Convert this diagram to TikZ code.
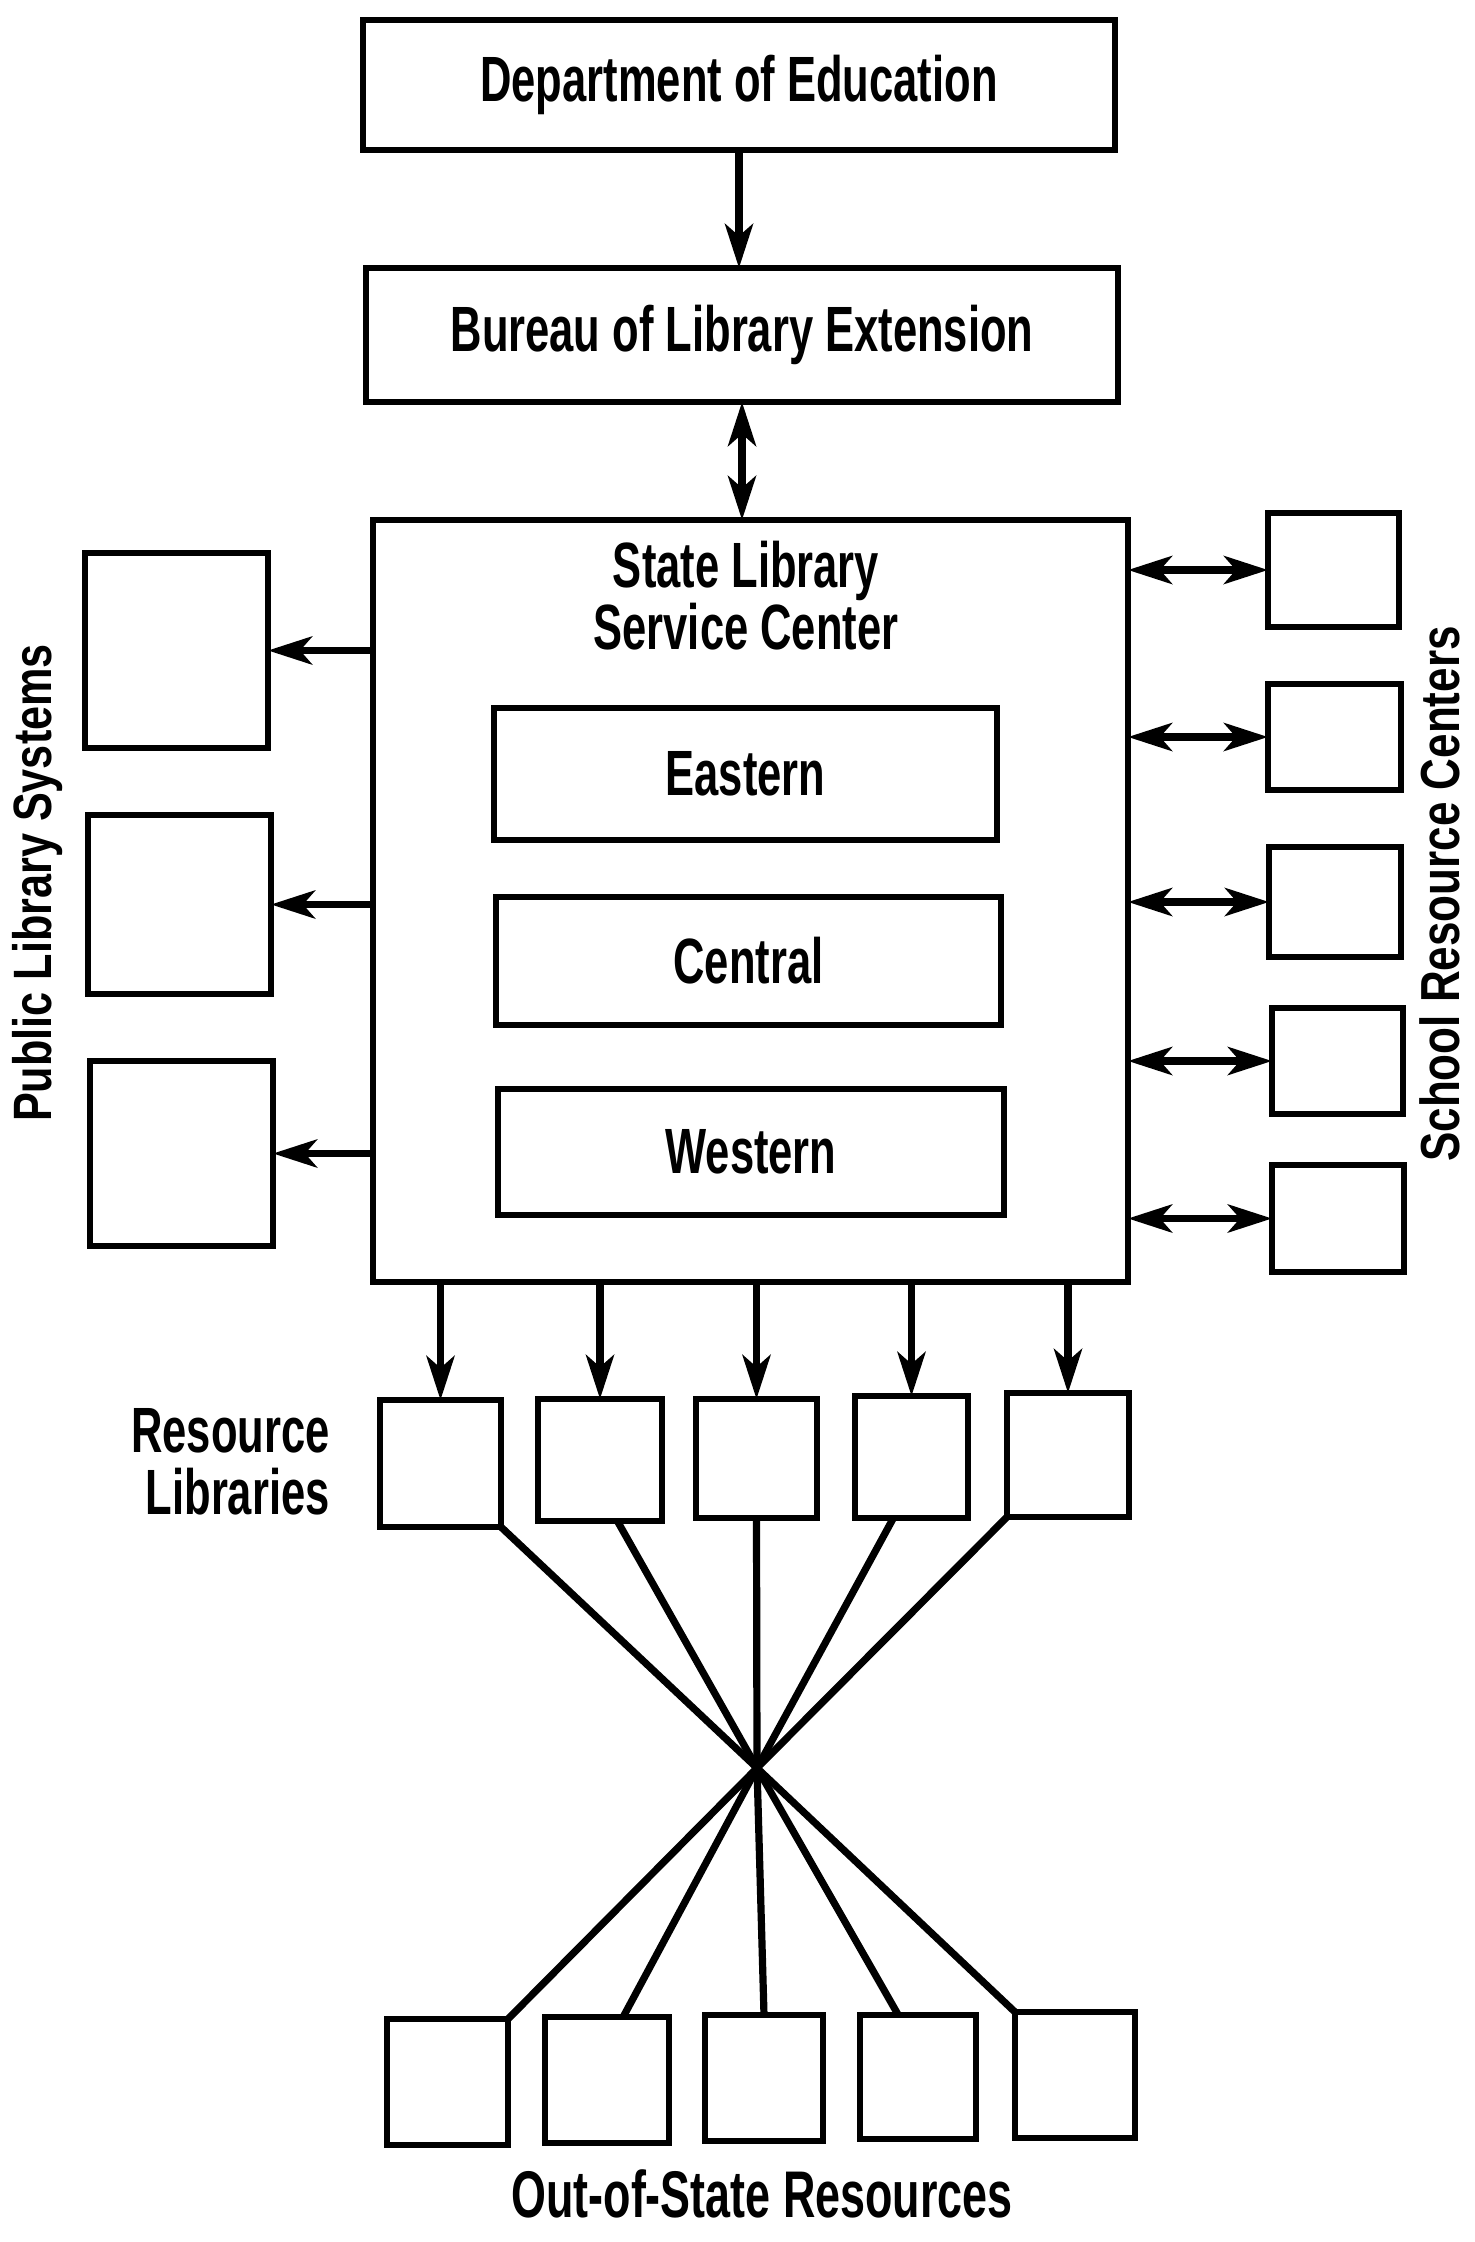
\documentclass[tikz,border=0pt]{standalone}
\usepackage{fontspec}
\setmainfont{Liberation Sans}
\newfontfamily\condf[FakeStretch=0.68]{Liberation Sans}
\newfontfamily\vertf[FakeStretch=0.8]{Liberation Sans}
\usetikzlibrary{arrows.meta,calc}
\newcommand{\mybox}[6]{\node[boxst, minimum width={(#4-#2)*0.5pt}, minimum height={(#5-#3)*0.5pt}] (#1) at ({(#2+#4)/2},{(#3+#5)/2}) {#6};}
\begin{document}
\begin{tikzpicture}[x=0.5pt,y=-0.5pt,
  boxst/.style={draw, line width=3pt, inner sep=0pt, outer sep=0pt, font=\condf\bfseries\fontsize{32}{33}\selectfont},
  lbl/.style={inner sep=0pt, font=\condf\bfseries\fontsize{32}{31}\selectfont},
  tipst/.tip={Stealth[length=22pt,width=14pt,inset=6pt]},
  arr/.style={line width=3.6pt, -tipst},
  darr/.style={line width=3.6pt, tipst-tipst},
  link/.style={line width=3.6pt}]
\useasboundingbox (0,0) rectangle (1474,2242);
% top chain
\mybox{dept}{363}{20}{1115}{150}{Department of Education}
\mybox{bur}{366}{268}{1118}{402}{Bureau of Library Extension}
\mybox{slsc}{373}{520}{1128}{1282}{}
\node[lbl, align=center] (slsct) at (746,596) {State Library\\Service Center};
\mybox{east}{494}{708}{997}{840}{Eastern}
\mybox{cent}{496}{897}{1001}{1025}{Central}
\mybox{west}{498}{1089}{1004}{1215}{Western}
% public library systems
\mybox{p1}{85}{553}{268}{748}{}
\mybox{p2}{88}{815}{271}{994}{}
\mybox{p3}{90}{1061}{273}{1246}{}
\node[inner sep=0pt, rotate=90, font=\vertf\bfseries\fontsize{27}{30}\selectfont] (plab) at (38,883) {Public Library Systems};
% school resource centers
\mybox{s1}{1268}{513}{1399}{627}{}
\mybox{s2}{1268}{684}{1401}{790}{}
\mybox{s3}{1269}{847}{1401}{957}{}
\mybox{s4}{1272}{1008}{1403}{1114}{}
\mybox{s5}{1272}{1165}{1404}{1272}{}
\node[inner sep=0pt, rotate=90, font=\vertf\bfseries\fontsize{27.5}{30}\selectfont] (slab) at (1440,894) {School Resource Centers};
% resource libraries
\mybox{r1}{380}{1400}{501}{1527}{}
\mybox{r2}{538}{1399}{662}{1521}{}
\mybox{r3}{696}{1399}{817}{1518}{}
\mybox{r4}{855}{1396}{968}{1518}{}
\mybox{r5}{1007}{1393}{1129}{1517}{}
\node[lbl, align=right, anchor=east] (rlab) at (330,1462) {Resource\\Libraries};
% out-of-state
\mybox{o1}{387}{2019}{508}{2145}{}
\mybox{o2}{545}{2017}{669}{2143}{}
\mybox{o3}{705}{2015}{823}{2141}{}
\mybox{o4}{860}{2015}{976}{2139}{}
\mybox{o5}{1015}{2012}{1135}{2138}{}
\node[lbl, font=\condf\bfseries\fontsize{33}{31}\selectfont] (olab) at (762,2194) {Out-of-State Resources};
\coordinate (X) at (757,1768);
% connectors
\draw[arr] (dept.south) -- (dept.south |- bur.north);
\draw[darr] (bur.south) -- (bur.south |- slsc.north);
\foreach \p in {p1,p2,p3} \draw[arr] (slsc.west |- \p.east) -- (\p.east);
\foreach \s in {s1,s2,s3,s4,s5} \draw[darr] (slsc.east |- \s.west) -- (\s.west);
\foreach \r in {r1,r2,r3,r4,r5} \draw[arr] (slsc.south -| \r.north) -- (\r.north);
\draw[link] (r1.south east) -- (X) -- (o1.north east);
\draw[link] ($(r2.south west)!0.64!(r2.south east)$) -- (X) -- ($(o2.north west)!0.63!(o2.north east)$);
\draw[link] (r3.south) -- (X) -- (o3.north);
\draw[link] ($(r4.south west)!0.34!(r4.south east)$) -- (X) -- ($(o4.north west)!0.33!(o4.north east)$);
\draw[link] (r5.south west) -- (X) -- (o5.north west);
\end{tikzpicture}
\end{document}
